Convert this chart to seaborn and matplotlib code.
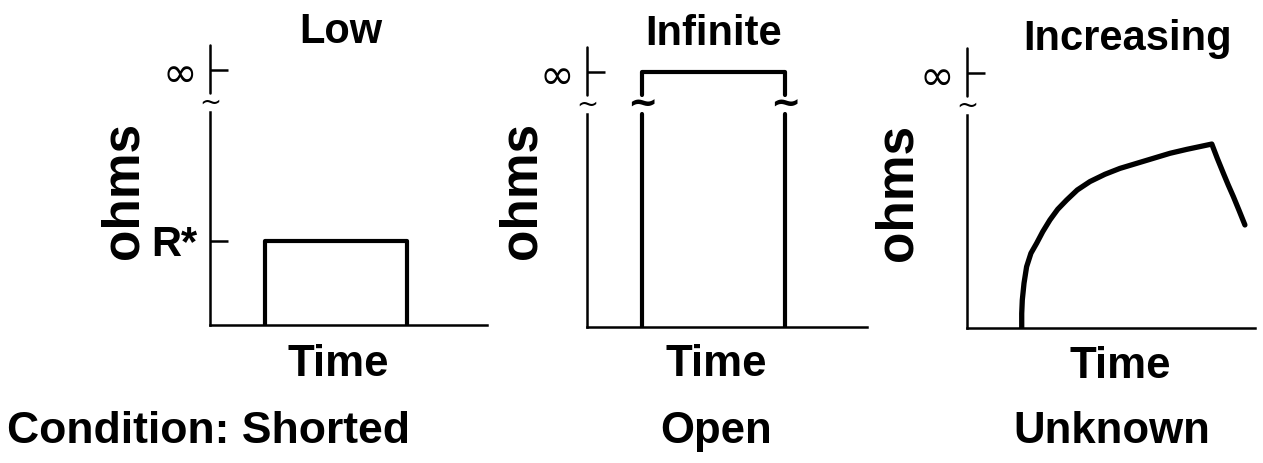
import matplotlib
matplotlib.use('Agg')
import matplotlib.pyplot as plt
import pandas as pd
import seaborn as sns

# Values (time and ohms in arbitrary units, 0-10 scale)
# "infinity" sits at about 9.1 on the ohms scale, above the axis break
INF = 9.1
R_STAR = 3.0

# Shorted: low resistance R* for a while
short_time = [2.0, 2.0, 7.1, 7.1]
short_ohms = [0, R_STAR, R_STAR, 0]

# Open: resistance jumps to infinity (drawn in three pieces around the break)
open_time = [1.96, 1.96, 1.96, 1.96, 7.07, 7.07, 7.07, 7.07]
open_ohms = [0, 7.6, 8.3, INF, INF, 8.3, 7.6, 0]
open_piece = [0, 0, 1, 1, 1, 1, 2, 2]

# Unknown: increasing resistance then falling off
unk_time = [1.90, 1.90, 1.92, 1.98, 2.07, 2.22, 2.42, 2.63, 2.88, 3.15, 3.46, 3.83, 4.27,
            4.79, 5.31, 5.89, 6.47, 7.05, 7.63, 8.09, 8.50, 8.69, 8.90, 9.07, 9.25, 9.45, 9.65]
unk_ohms = [0, 0.52, 1.0, 1.60, 2.19, 2.67, 3.03, 3.44, 3.86, 4.24, 4.57, 4.93, 5.23,
            5.49, 5.70, 5.88, 6.06, 6.24, 6.38, 6.48, 6.57, 6.06, 5.53, 5.11, 4.69, 4.19, 3.68]

titles = ['Low', 'Infinite', 'Increasing']
conditions = ['Condition: Shorted', 'Open', 'Unknown']

sns.set_style('white')
plt.rcParams['font.family'] = ['Liberation Sans', 'DejaVu Sans']
plt.rcParams['text.color'] = 'black'
plt.rcParams['ytick.color'] = 'black'
plt.rcParams['ytick.labelcolor'] = 'black'

W, H = 1263, 463
fig = plt.figure(figsize=(W / 100, H / 100), dpi=100)


def rect(x0, x1, ytop, ybot):
    return [x0 / W, 1 - ybot / H, (x1 - x0) / W, (ybot - ytop) / H]


def px(x, y):
    return x / W, 1 - y / H


# axes boxes in pixels: left, right, top, bottom
boxes = [(210, 487, 45, 325), (587, 867, 47, 327), (967, 1255, 48, 328)]
axes = [fig.add_axes(rect(*b)) for b in boxes]

for ax in axes:
    ax.set_xlim(0, 10)
    ax.set_ylim(0, 10)
    ax.set_facecolor('none')
    for s in ['top', 'right']:
        ax.spines[s].set_visible(False)
    ax.spines['left'].set_bounds(0, 7.6)
    for s in ['left', 'bottom']:
        ax.spines[s].set_linewidth(1.8)
        ax.spines[s].set_color('black')
    # upper piece of the broken ohms axis
    ax.plot([0, 0], [8.3, 10], color='black', lw=1.8, clip_on=False)
    ax.text(0, 7.95, '~', ha='center', va='center', fontsize=19, family='DejaVu Sans')
    ax.set_xticks([])
    ax.tick_params(axis='y', left=True, direction='in', length=13, width=1.8,
                   color='black', pad=9)

# ticks: infinity on all, R* on the first
axes[0].set_yticks([R_STAR, INF])
axes[0].set_yticklabels(['R*', '∞'])
axes[1].set_yticks([INF])
axes[1].set_yticklabels(['∞'])
axes[2].set_yticks([INF])
axes[2].set_yticklabels(['∞'])
for ax in axes:
    for lab in ax.get_yticklabels():
        lab.set_color('black')
        if lab.get_text() == '∞':
            lab.set_fontsize(30)
            lab.set_family('DejaVu Sans')
        else:
            lab.set_fontsize(30)
            lab.set_fontweight('bold')

df_short = pd.DataFrame({'time': short_time, 'ohms': short_ohms})
df_open = pd.DataFrame({'time': open_time, 'ohms': open_ohms, 'piece': open_piece})
df_unk = pd.DataFrame({'time': unk_time, 'ohms': unk_ohms})

sns.lineplot(data=df_short, x='time', y='ohms', sort=False, estimator=None,
             color='black', lw=3.0, ax=axes[0])
sns.lineplot(data=df_open, x='time', y='ohms', units='piece', sort=False, estimator=None,
             color='black', lw=3.0, ax=axes[1])
sns.lineplot(data=df_unk, x='time', y='ohms', sort=False, estimator=None,
             color='black', lw=3.8, ax=axes[2], solid_joinstyle='round',
             solid_capstyle='round')

# break marks on the open pulse
for xb in [1.96, 7.07]:
    axes[1].text(xb, 7.95, '~', ha='center', va='center', fontsize=26,
                 fontweight='bold', family='DejaVu Sans')

for ax in axes:
    ax.set_xlabel('')
    ax.set_ylabel('')

# titles, axis names and condition labels
title_pos = [(341, 43), (714, 45), (1128, 50)]
ohms_pos = [(124, 190), (522, 190), (898, 192)]
time_pos = [(338, 376), (716, 376), (1120, 378)]
cond_pos = [(7, 443), (716, 443), (1112, 443)]

for t, (x, y) in zip(titles, title_pos):
    fig.text(*px(x, y), t, ha='center', va='baseline', fontsize=30, fontweight='bold')
for (x, y) in ohms_pos:
    fig.text(*px(x, y), 'ohms', ha='center', va='center', rotation=90,
             fontsize=37, fontweight='bold')
for (x, y) in time_pos:
    fig.text(*px(x, y), 'Time', ha='center', va='baseline', fontsize=31.5, fontweight='bold')
for i, (c, (x, y)) in enumerate(zip(conditions, cond_pos)):
    fig.text(*px(x, y), c, ha='left' if i == 0 else 'center', va='baseline',
             fontsize=32 if i == 0 else 31.5, fontweight='bold')

fig.savefig('out.png', dpi=100, facecolor='white')
